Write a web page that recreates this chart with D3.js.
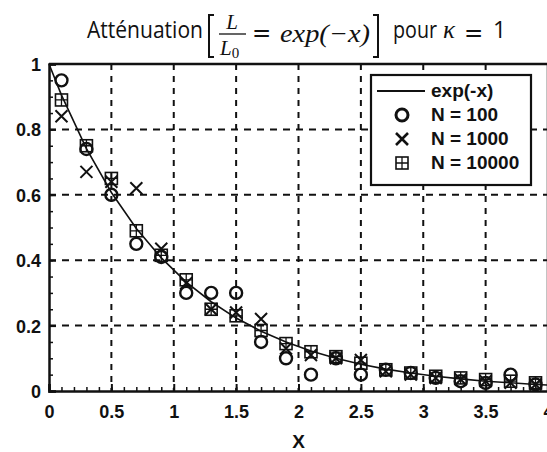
<!DOCTYPE html>
<html>
<head>
<meta charset="utf-8">
<script src="https://cdn.jsdelivr.net/npm/d3@7"></script>
<style>
  body { margin: 0; background: #fff; }
  #chart { width: 547px; height: 452px; }
  .tick text { font-family: "Liberation Sans", Arial, sans-serif; font-weight: bold; font-size: 18px; fill: #111; }
</style>
</head>
<body>
<div id="chart"></div>
<script>

    // sample positions (bin centres)
    var xValues = [0.1, 0.3, 0.5, 0.7, 0.9, 1.1, 1.3, 1.5, 1.7, 1.9, 2.1, 2.3, 2.5, 2.7, 2.9, 3.1, 3.3, 3.5, 3.7, 3.9];

    var n100   = [0.95, 0.74, 0.60, 0.45, 0.41, 0.30, 0.30, 0.30, 0.15, 0.10, 0.05, 0.10, 0.05, 0.065, 0.055, 0.04, 0.03, 0.025, 0.05, 0.02];
    var n1000  = [0.84, 0.67, 0.64, 0.62, 0.435, 0.33, 0.25, 0.24, 0.22, 0.13, 0.11, 0.10, 0.095, 0.06, 0.05, 0.04, 0.035, 0.03, 0.025, 0.02];
    var n10000 = [0.89, 0.75, 0.65, 0.49, 0.415, 0.34, 0.25, 0.23, 0.185, 0.145, 0.12, 0.105, 0.085, 0.065, 0.055, 0.045, 0.04, 0.035, 0.03, 0.025];

    // exp(-x) curve
    var curveX = [0, 0.1, 0.3, 0.5, 0.7, 0.9, 1.1, 1.3, 1.5, 1.7, 1.9, 2.1, 2.3, 2.5, 2.7, 2.9, 3.1, 3.3, 3.5, 3.7, 3.9, 4.0];
    var curveY = [1, 0.905, 0.741, 0.607, 0.497, 0.407, 0.333, 0.273, 0.223, 0.183, 0.150, 0.122, 0.100, 0.082, 0.067, 0.055, 0.045, 0.037, 0.030, 0.025, 0.020, 0.018];

    var xTicks = [0, 0.5, 1, 1.5, 2, 2.5, 3, 3.5, 4];
    var yTicks = [0, 0.2, 0.4, 0.6, 0.8, 1];

    var legendLabels = ["exp(-x)", "N = 100", "N = 1000", "N = 10000"];


    var width = 547, height = 452;

    var svg = d3.select("#chart")
        .append("svg")
        .attr("width", width)
        .attr("height", height);

    var xScale = d3.scaleLinear().domain([0, 4]).range([49, 548]);
    var yScale = d3.scaleLinear().domain([0, 1]).range([391, 64]);


    // dashed grid
    svg.append("g").selectAll("line")
        .data(xTicks.filter(function(d) { return d > 0 && d < 4; }))
        .enter().append("line")
            .attr("x1", function(d) { return xScale(d); })
            .attr("x2", function(d) { return xScale(d); })
            .attr("y1", yScale(1))
            .attr("y2", yScale(0))
            .attr("stroke", "#111")
            .attr("stroke-width", 2)
            .attr("stroke-dasharray", "6,6");

    svg.append("g").selectAll("line")
        .data(yTicks.filter(function(d) { return d > 0 && d < 1; }))
        .enter().append("line")
            .attr("x1", xScale(0))
            .attr("x2", xScale(4))
            .attr("y1", function(d) { return yScale(d); })
            .attr("y2", function(d) { return yScale(d); })
            .attr("stroke", "#111")
            .attr("stroke-width", 2)
            .attr("stroke-dasharray", "7,6");


    // axes with labels
    var xAxis = svg.append("g")
        .attr("transform", "translate(0," + yScale(0) + ")")
        .call(d3.axisBottom(xScale).tickValues(xTicks).tickSize(-7).tickPadding(14)
            .tickFormat(function(d) { return d; }));

    var yAxis = svg.append("g")
        .attr("transform", "translate(" + xScale(0) + ",0)")
        .call(d3.axisLeft(yScale).tickValues(yTicks).tickSize(-7).tickPadding(8)
            .tickFormat(function(d) { return d; }));

    [xAxis, yAxis].forEach(function(a) {
        a.select(".domain").attr("stroke-width", 2.5).attr("stroke", "#111");
        a.selectAll(".tick line").attr("stroke-width", 2).attr("stroke", "#111");
    });
    yAxis.selectAll(".tick text").attr("dy", "0.36em");

    // minor ticks
    svg.append("g")
        .attr("transform", "translate(0," + yScale(0) + ")")
        .call(d3.axisBottom(xScale).ticks(40).tickSize(-4).tickFormat(""))
        .call(function(g) {
            g.select(".domain").remove();
            g.selectAll(".tick line").attr("stroke", "#111").attr("stroke-width", 1.5);
        });

    svg.append("g")
        .attr("transform", "translate(" + xScale(0) + ",0)")
        .call(d3.axisLeft(yScale).ticks(25).tickSize(-4).tickFormat(""))
        .call(function(g) {
            g.select(".domain").remove();
            g.selectAll(".tick line").attr("stroke", "#111").attr("stroke-width", 1.5);
        });

    // top and right frame
    svg.append("line")
        .attr("x1", xScale(0)).attr("x2", xScale(4))
        .attr("y1", yScale(1)).attr("y2", yScale(1))
        .attr("stroke", "#111").attr("stroke-width", 2.5);
    svg.append("line")
        .attr("x1", xScale(4)).attr("x2", xScale(4))
        .attr("y1", yScale(1)).attr("y2", yScale(0))
        .attr("stroke", "#111").attr("stroke-width", 2.5);


    // exp(-x) line
    var line = d3.line()
        .x(function(d, i) { return xScale(curveX[i]); })
        .y(function(d) { return yScale(d); });

    svg.append("path")
        .datum(curveY)
        .attr("d", line)
        .attr("fill", "none")
        .attr("stroke", "#111")
        .attr("stroke-width", 1.6);


    // markers
    function drawCircle(g, cx, cy, r, sw) {
        g.append("circle")
            .attr("cx", cx).attr("cy", cy).attr("r", r)
            .attr("fill", "none").attr("stroke", "#111").attr("stroke-width", sw);
    }
    function drawCross(g, cx, cy, s, sw) {
        g.append("path")
            .attr("d", "M" + (cx - s) + "," + (cy - s) + "L" + (cx + s) + "," + (cy + s) +
                       "M" + (cx - s) + "," + (cy + s) + "L" + (cx + s) + "," + (cy - s))
            .attr("fill", "none").attr("stroke", "#111").attr("stroke-width", sw);
    }
    function drawSquare(g, cx, cy, s, sw) {
        g.append("rect")
            .attr("x", cx - s).attr("y", cy - s).attr("width", 2 * s).attr("height", 2 * s)
            .attr("fill", "none").attr("stroke", "#111").attr("stroke-width", sw);
        g.append("path")
            .attr("d", "M" + cx + "," + (cy - s) + "L" + cx + "," + (cy + s) +
                       "M" + (cx - s) + "," + cy + "L" + (cx + s) + "," + cy)
            .attr("fill", "none").attr("stroke", "#111").attr("stroke-width", sw * 0.8);
    }

    var marks = svg.append("g");

    xValues.forEach(function(x, i) {
        drawSquare(marks, xScale(x), yScale(n10000[i]), 6, 1.6);
    });
    xValues.forEach(function(x, i) {
        drawCross(marks, xScale(x), yScale(n1000[i]), 6, 2);
    });
    xValues.forEach(function(x, i) {
        drawCircle(marks, xScale(x), yScale(n100[i]), 6, 2.4);
    });


    // legend
    var legend = svg.append("g");
    legend.append("rect")
        .attr("x", 371).attr("y", 75).attr("width", 160).attr("height", 110)
        .attr("fill", "#fff").attr("stroke", "#111").attr("stroke-width", 2.2);

    var legendY = [91, 115, 139, 163];
    legend.append("line")
        .attr("x1", 377).attr("x2", 425)
        .attr("y1", legendY[0]).attr("y2", legendY[0])
        .attr("stroke", "#111").attr("stroke-width", 1.8);
    drawCircle(legend, 402, legendY[1], 6, 3);
    drawCross(legend, 402, legendY[2], 6, 2.6);
    drawSquare(legend, 402, legendY[3], 6, 1.6);

    legend.selectAll("text")
        .data(legendLabels)
        .enter().append("text")
            .attr("x", 431)
            .attr("y", function(d, i) { return legendY[i] + 6; })
            .attr("font-family", "'Liberation Sans', Arial, sans-serif")
            .attr("font-weight", "bold")
            .attr("font-size", 19)
            .attr("fill", "#111")
            .text(function(d) { return d; });


    // x axis title
    svg.append("text")
        .attr("x", xScale(2))
        .attr("y", 448)
        .attr("text-anchor", "middle")
        .attr("font-family", "'Liberation Sans', Arial, sans-serif")
        .attr("font-weight", "bold")
        .attr("font-size", 19)
        .attr("fill", "#111")
        .text("X");


    // chart title with the formula
    var title = svg.append("g").attr("fill", "#111");
    var sans = "'Open Sans', 'Noto Sans', sans-serif";
    var serif = "'Liberation Serif', 'DejaVu Serif', serif";
    var mathSym = "'DejaVu Sans', sans-serif";

    title.append("text")
        .attr("x", 87).attr("y", 38)
        .attr("font-family", sans).attr("font-size", 23)
        .attr("textLength", 116).attr("lengthAdjust", "spacingAndGlyphs")
        .text("Atténuation");

    // brackets
    title.append("path")
        .attr("d", "M214,15 L209,15 L209,57 L214,57")
        .attr("fill", "none").attr("stroke", "#111").attr("stroke-width", 2);
    title.append("path")
        .attr("d", "M373,15 L378,15 L378,57 L373,57")
        .attr("fill", "none").attr("stroke", "#111").attr("stroke-width", 2);

    // fraction L / L0
    title.append("text")
        .attr("x", 232).attr("y", 29).attr("text-anchor", "middle")
        .attr("font-family", serif).attr("font-style", "italic").attr("font-size", 21)
        .text("L");
    title.append("line")
        .attr("x1", 219).attr("x2", 246).attr("y1", 34).attr("y2", 34)
        .attr("stroke", "#111").attr("stroke-width", 1.3);
    var den = title.append("text")
        .attr("x", 220).attr("y", 55)
        .attr("font-family", serif).attr("font-size", 21);
    den.append("tspan").attr("font-style", "italic").text("L");
    den.append("tspan").attr("font-size", 15).attr("dy", 3).text("0");

    title.append("text")
        .attr("x", 252).attr("y", 41)
        .attr("font-family", mathSym).attr("font-size", 23)
        .text("=");
    title.append("text")
        .attr("x", 280).attr("y", 42)
        .attr("font-family", serif).attr("font-style", "italic").attr("font-size", 25)
        .attr("textLength", 90).attr("lengthAdjust", "spacingAndGlyphs")
        .text("exp(\u2212x)");

    title.append("text")
        .attr("x", 393).attr("y", 38)
        .attr("font-family", sans).attr("font-size", 23)
        .attr("textLength", 44).attr("lengthAdjust", "spacingAndGlyphs")
        .text("pour");
    title.append("text")
        .attr("x", 443).attr("y", 38)
        .attr("font-family", serif).attr("font-style", "italic").attr("font-size", 25)
        .text("\u03BA");
    title.append("text")
        .attr("x", 464).attr("y", 41)
        .attr("font-family", mathSym).attr("font-size", 23)
        .text("=");
    title.append("text")
        .attr("x", 493).attr("y", 38)
        .attr("font-family", sans).attr("font-size", 23)
        .text("1");

</script>
</body>
</html>
